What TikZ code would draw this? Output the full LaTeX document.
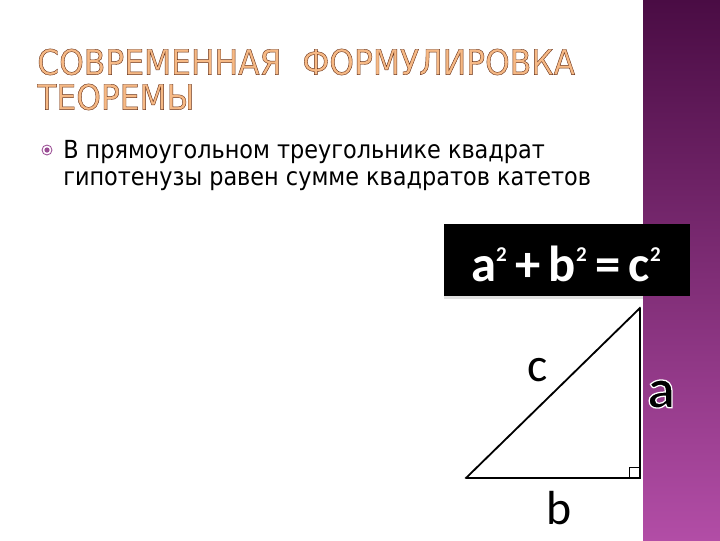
\documentclass[tikz,border=0pt]{standalone}
\usepackage{fontspec}
\setmainfont{DejaVu Sans}
\newfontfamily\titlefont{DejaVu Sans Condensed}[FakeBold=1.2]
\newfontfamily\bodyfont{DejaVu Sans Condensed}
\newfontfamily\formulafont{Carlito}
\definecolor{bandtop}{HTML}{4A0C44}
\definecolor{bandbot}{HTML}{B24DA6}
\definecolor{titlefill}{HTML}{F6B985}
\definecolor{bulletcol}{HTML}{9A4C94}
% hollow letters: stroke colour (pdf rgb) and text
\newcommand\hollowtext[2]{\special{pdf:literal direct #1 RG 2 Tr 0.9 w}#2\special{pdf:literal direct 0 Tr}}
\newcommand\sqr{\raisebox{0.4em}{\fontsize{15}{15}\selectfont 2}}
\tikzset{
  titletext/.style={anchor=west, inner sep=0pt, text=titlefill,
    font=\titlefont\fontsize{24.8}{24.8}\selectfont},
  bodytext/.style={anchor=west, inner sep=0pt, align=left,
    font=\bodyfont\fontsize{17.7}{19.2}\selectfont},
  sidelabel/.style={inner sep=0pt, font=\formulafont\fontsize{34}{34}\selectfont},
  leg/.style={line width=2pt, line cap=round},
}
\begin{document}
\begin{tikzpicture}[x=0.025cm,y=-0.025cm]
\useasboundingbox (0,0) rectangle (720,540);
\fill[white] (0,0) rectangle (720,540);
\shade[top color=bandtop, bottom color=bandbot] (643,0) rectangle (720,540);
\node[titletext] (title1) at (37,62) {\hollowtext{0.42 0.2 0.1}{СОВРЕМЕННАЯ\hspace{0.6em}ФОРМУЛИРОВКА}};
\node[titletext] (title2) at (37,97) {\hollowtext{0.42 0.2 0.1}{ТЕОРЕМЫ}};
\draw[bulletcol, line width=0.6pt] (47,150) circle (5);
\fill[bulletcol] (47,150) circle (2.6);
\node[bodytext, anchor=north west] (rule) at (63,140) {В прямоугольном треугольнике квадрат\\гипотенузы равен сумме квадратов катетов};
\fill[black!12] (444,296) rectangle (643,299);
\fill[black] (444,224) rectangle (690,296);
\node[text=white, inner sep=0pt, font=\formulafont\bfseries\fontsize{36}{36}\selectfont] (formula) at (566,264)
  {a\sqr\,+\,b\sqr\,=\,c\sqr};
\coordinate (A) at (466,478);
\coordinate (C) at (640,478);
\coordinate (B) at (640,308);
\draw[leg] (A) -- (C) -- (B);
\draw[line width=1.3pt] (A) -- (B);
\draw[line width=0.6pt] (629,478) -- (629,467) -- (640,467);
\node[sidelabel] (labc) at (538,370) {c};
\node[sidelabel] (labb) at (559,508) {b};
\node[sidelabel, font=\formulafont\bfseries\fontsize{40}{40}\selectfont] (laba) at (661,394) {\hollowtext{1 1 1}{a}};
\end{tikzpicture}
\end{document}
